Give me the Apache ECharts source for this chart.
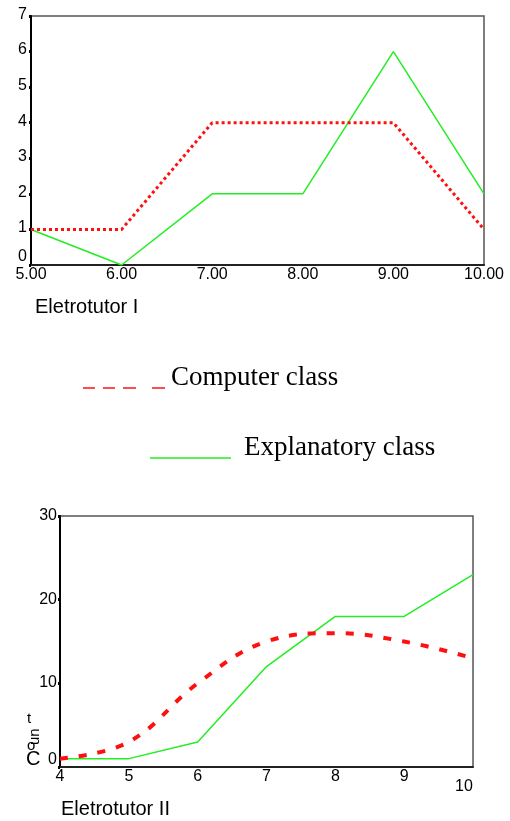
<!DOCTYPE html>
<html>
<head>
<meta charset="utf-8">
<script src="https://cdn.jsdelivr.net/npm/echarts@6/dist/echarts.min.js"></script>
<style>
html,body{margin:0;padding:0;background:#fff;}
#c{width:510px;height:821px;}
</style>
</head>
<body>
<div id="c"></div>
<script>
// ---- data ----
const scores1 = [5, 6, 7, 8, 9, 10];
const computer1 = [1, 1, 4, 4, 4, 1];
const explanatory1 = [1, 0, 2, 2, 6, 2];
const scores2 = [4, 5, 6, 7, 8, 9, 10];
const computer2 = [1, 3, 10, 15, 16, 15, 13];
const explanatory2 = [1, 1, 3, 12, 18, 18, 23];
const seriesNames = ['Computer class', 'Explanatory class'];
const chartTitles = ['Eletrotutor I', 'Eletrotutor II'];
const yLabel2 = 'Count';

const RED = '#ff1010';
const GREEN = '#22ee22';
const sans = 'Liberation Sans, Arial, sans-serif';
const serif = 'Liberation Serif, Times New Roman, serif';
const FS = 16;

function pairs(xs, ys) { return xs.map((x, i) => [x, ys[i]]); }

const yAxisCommon = {
  type: 'value',
  splitLine: { show: false },
  axisLine: { show: true, lineStyle: { color: '#000', width: 2 } },
  axisTick: { show: true, length: 2, lineStyle: { color: '#000', width: 3 } },
};
const xAxisCommon = {
  type: 'value',
  splitLine: { show: false },
  axisLine: { show: true, onZero: false, lineStyle: { color: '#222', width: 2 } },
  axisTick: { show: false },
};

const option = {
  animation: false,
  backgroundColor: '#fff',
  title: [
    { text: chartTitles[0], left: 35, top: 297, padding: 0,
      textStyle: { fontFamily: sans, fontSize: 20, fontWeight: 'normal', color: '#000' } },
    { text: chartTitles[1], left: 61, top: 799, padding: 0,
      textStyle: { fontFamily: sans, fontSize: 20, fontWeight: 'normal', color: '#000' } }
  ],
  grid: [
    { left: 31, top: 16, width: 453, height: 249, show: true, borderColor: '#555', borderWidth: 1.5, backgroundColor: 'transparent' },
    { left: 60, top: 516, width: 413, height: 251, show: true, borderColor: '#555', borderWidth: 1.5, backgroundColor: 'transparent' }
  ],
  xAxis: [
    Object.assign({}, xAxisCommon, {
      gridIndex: 0, min: 5, max: 10, interval: 1,
      axisLabel: { margin: 2, fontFamily: sans, fontSize: FS, color: '#000',
        formatter: v => v.toFixed(2) }
    }),
    Object.assign({}, xAxisCommon, {
      gridIndex: 1, min: 4, max: 10, interval: 1,
      axisLabel: { margin: 2, fontFamily: sans, fontSize: FS, color: '#000',
        formatter: v => v === 10 ? '{b|10}' : String(v),
        rich: { b: { fontFamily: sans, fontSize: FS, color: '#000', padding: [10, 18, 0, 0] } } }
    })
  ],
  yAxis: [
    Object.assign({}, yAxisCommon, {
      gridIndex: 0, min: 0, max: 7, interval: 1,
      axisLabel: { margin: 4, fontFamily: sans, fontSize: FS, color: '#000', padding: [0, 0, 3, 0],
        formatter: v => v === 0 ? '{z|0}' : String(v),
        rich: { z: { fontFamily: sans, fontSize: FS, color: '#000', padding: [0, 0, 13, 0] } } }
    }),
    Object.assign({}, yAxisCommon, {
      gridIndex: 1, min: 0, max: 30, interval: 10,
      axisLabel: { margin: 3, fontFamily: sans, fontSize: FS, color: '#000', padding: [0, 0, 1, 0],
        formatter: v => v === 0 ? '{z|0}' : String(v),
        rich: { z: { fontFamily: sans, fontSize: FS, color: '#000', padding: [0, 0, 13, 0] } } }
    })
  ],
  series: [
    { name: seriesNames[1], type: 'line', xAxisIndex: 0, yAxisIndex: 0,
      data: pairs(scores1, explanatory1), showSymbol: false,
      lineStyle: { color: GREEN, width: 1.5 }, z: 2 },
    { name: seriesNames[0], type: 'line', xAxisIndex: 0, yAxisIndex: 0,
      data: pairs(scores1, computer1), showSymbol: false,
      lineStyle: { color: RED, width: 3, type: [3, 3] }, z: 3 },
    { name: seriesNames[1], type: 'line', xAxisIndex: 1, yAxisIndex: 1,
      data: pairs(scores2, explanatory2), showSymbol: false,
      lineStyle: { color: GREEN, width: 1.5 }, z: 2 },
    { name: seriesNames[0], type: 'line', xAxisIndex: 1, yAxisIndex: 1,
      data: pairs(scores2, computer2), showSymbol: false, smooth: 0.4,
      lineStyle: { color: RED, width: 4, type: [8, 11] }, z: 3 }
  ],
  graphic: [
    // legend: Computer class
    { type: 'line', shape: { x1: 83, y1: 388, x2: 95, y2: 388 }, style: { stroke: RED, lineWidth: 1.5 } },
    { type: 'line', shape: { x1: 103, y1: 388, x2: 115, y2: 388 }, style: { stroke: RED, lineWidth: 1.5 } },
    { type: 'line', shape: { x1: 123, y1: 388, x2: 136, y2: 388 }, style: { stroke: RED, lineWidth: 1.5 } },
    { type: 'line', shape: { x1: 152, y1: 388, x2: 165, y2: 388 }, style: { stroke: RED, lineWidth: 1.5 } },
    { type: 'text', left: 171, top: 364, style: { text: seriesNames[0], font: '27px ' + serif, fill: '#000' } },
    // legend: Explanatory class
    { type: 'line', shape: { x1: 150, y1: 458, x2: 231, y2: 458 }, style: { stroke: GREEN, lineWidth: 1.5 } },
    { type: 'text', left: 244, top: 434, style: { text: seriesNames[1], font: '27px ' + serif, fill: '#000' } },
    // stacked y-axis label of chart 2
    { type: 'text', x: 26, y: 749, style: { text: yLabel2.charAt(0), font: '20px ' + sans, fill: '#000' } },
    { type: 'text', x: 27, y: 738, style: { text: yLabel2.charAt(1), font: '15px ' + sans, fill: '#000' } },
    { type: 'text', x: 27, y: 745, rotation: Math.PI / 2, style: { text: yLabel2.substr(2, 2), font: '15px ' + sans, fill: '#000' } },
    { type: 'text', x: 27, y: 711, style: { text: yLabel2.charAt(4), font: '15px ' + sans, fill: '#000' } }
  ]
};

const chart = echarts.init(document.getElementById('c'), null, { renderer: 'canvas' });
chart.setOption(option);
</script>
</body>
</html>
